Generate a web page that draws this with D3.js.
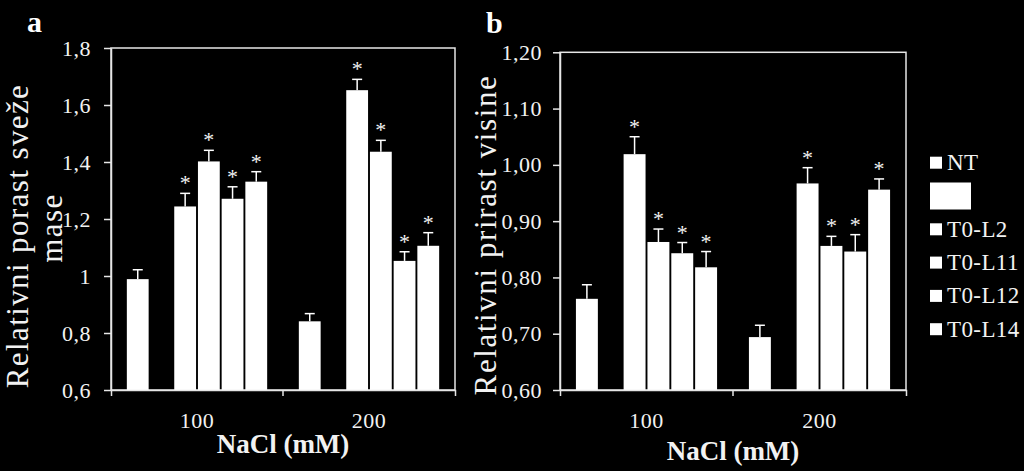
<!DOCTYPE html>
<html><head><meta charset="utf-8">
<script src="https://cdn.jsdelivr.net/npm/d3@7"></script>
<style>
body{margin:0;background:#000;}
svg{display:block;}
text{font-family:"Liberation Serif","Times New Roman",serif;}
</style>
</head><body>
<svg id="c" width="1024" height="471"></svg>
<script>
// ---- data ----
const groups = ["100", "200"];
const series = ["NT", " ", "T0-L2", "T0-L11", "T0-L12", "T0-L14"];

// panel a: relative fresh mass growth (per series, values for 100 and 200 mM)
const massNT = [0.989, 0.841],   massNTErr = [0.033, 0.027];
const massL2 = [1.244, 1.652],   massL2Err = [0.046, 0.038];
const massL11 = [1.402, 1.436],  massL11Err = [0.039, 0.040];
const massL12 = [1.271, 1.053],  massL12Err = [0.042, 0.032];
const massL14 = [1.331, 1.106],  massL14Err = [0.035, 0.046];

// panel b: relative height growth
const heightNT = [0.762, 0.694],  heightNTErr = [0.025, 0.021];
const heightL2 = [1.019, 0.967],  heightL2Err = [0.031, 0.028];
const heightL11 = [0.863, 0.856], heightL11Err = [0.023, 0.017];
const heightL12 = [0.843, 0.846], heightL12Err = [0.019, 0.030];
const heightL14 = [0.818, 0.956], heightL14Err = [0.028, 0.019];

// significance marker (*) per series
const significant = [false, false, true, true, true, true];

const massTicks = [0.6, 0.8, 1.0, 1.2, 1.4, 1.6, 1.8];
const massTickLabels = ["0,6", "0,8", "1", "1,2", "1,4", "1,6", "1,8"];
const heightTicks = [0.6, 0.7, 0.8, 0.9, 1.0, 1.1, 1.2];
const heightTickLabels = ["0,60", "0,70", "0,80", "0,90", "1,00", "1,10", "1,20"];

const massSeries = [
  {vals: massNT, errs: massNTErr}, null,
  {vals: massL2, errs: massL2Err}, {vals: massL11, errs: massL11Err},
  {vals: massL12, errs: massL12Err}, {vals: massL14, errs: massL14Err}
];
const heightSeries = [
  {vals: heightNT, errs: heightNTErr}, null,
  {vals: heightL2, errs: heightL2Err}, {vals: heightL11, errs: heightL11Err},
  {vals: heightL12, errs: heightL12Err}, {vals: heightL14, errs: heightL14Err}
];

const svg = d3.select("#c");
const LINE = "#e6e6e6";
const TXT = "#f2f2f2";

function panel(opts) {
  const {left, right, top, bottom, domain, ticks, tickLabels, data, tickPad} = opts;
  const g = svg.append("g");
  const x = d3.scaleBand().domain(groups).range([left, right]).padding(0);
  const xi = d3.scaleBand().domain(d3.range(series.length))
      .range([0, x.bandwidth()]).paddingInner(0.08).paddingOuter(0.668);
  const y = d3.scaleLinear().domain(domain).range([bottom, top]);

  // frame
  g.append("rect").attr("x", left).attr("y", top)
    .attr("width", right - left).attr("height", bottom - top)
    .attr("fill", "none").attr("stroke", LINE).attr("stroke-width", 1.5);

  // bars, error bars, asterisks
  data.forEach((s, si) => {
    if (!s) return;
    groups.forEach((grp, gi) => {
      const v = s.vals[gi], e = s.errs[gi];
      const bx = x(grp) + xi(si), bw = xi.bandwidth(), cx = bx + bw / 2;
      g.append("rect").attr("x", bx).attr("y", y(v))
        .attr("width", bw).attr("height", y(domain[0]) - y(v)).attr("fill", "#fff");
      g.append("line").attr("x1", cx).attr("x2", cx).attr("y1", y(v)).attr("y2", y(v + e))
        .attr("stroke", "#fff").attr("stroke-width", 1.5);
      g.append("line").attr("x1", cx - 5).attr("x2", cx + 5).attr("y1", y(v + e)).attr("y2", y(v + e))
        .attr("stroke", "#fff").attr("stroke-width", 1.5);
      if (significant[si]) {
        g.append("text").attr("x", cx).attr("y", y(v + e) - 3)
          .attr("text-anchor", "middle").attr("font-size", 22).attr("fill", TXT).text("*");
      }
    });
  });

  // y axis
  const ya = g.append("g").attr("transform", `translate(${left},0)`)
    .call(d3.axisLeft(y).tickValues(ticks).tickFormat((d, i) => tickLabels[i])
      .tickSizeInner(7).tickSizeOuter(0).tickPadding(tickPad));
  ya.selectAll("path,line").attr("stroke", LINE).attr("stroke-width", 1.5);
  ya.selectAll("text").attr("font-size", 22).attr("fill", TXT).attr("letter-spacing", 0.5)
    .style("font-family", '"Liberation Serif","Times New Roman",serif');

  // x axis
  const xa = g.append("g").attr("transform", `translate(0,${bottom})`)
    .call(d3.axisBottom(x).tickSizeInner(0).tickSizeOuter(6).tickPadding(22));
  xa.selectAll("path,line").attr("stroke", LINE).attr("stroke-width", 1.5);
  xa.selectAll("text").attr("font-size", 22).attr("fill", TXT).attr("letter-spacing", 0.5)
    .style("font-family", '"Liberation Serif","Times New Roman",serif');
  xa.append("line").attr("x1", x(groups[1])).attr("x2", x(groups[1]))
    .attr("y1", 0).attr("y2", 6).attr("stroke", LINE).attr("stroke-width", 1.5);
  return {x, y};
}

panel({left: 111, right: 455, top: 48, bottom: 390, domain: [0.6, 1.8],
  ticks: massTicks, tickLabels: massTickLabels, data: massSeries, tickPad: 13});
panel({left: 560, right: 906, top: 52.3, bottom: 390, domain: [0.6, 1.2],
  ticks: heightTicks, tickLabels: heightTickLabels, data: heightSeries, tickPad: 11});

// titles
svg.append("text").attr("transform", "translate(28,236) rotate(-90)")
  .attr("text-anchor", "middle").attr("font-size", 31).attr("letter-spacing", 1.4)
  .attr("fill", TXT).text("Relativni porast sveže");
svg.append("text").attr("transform", "translate(62,228) rotate(-90)")
  .attr("text-anchor", "middle").attr("font-size", 31).attr("letter-spacing", 1.4)
  .attr("fill", TXT).text("mase");
svg.append("text").attr("transform", "translate(496,235) rotate(-90)")
  .attr("text-anchor", "middle").attr("font-size", 31).attr("letter-spacing", 1.6)
  .attr("fill", TXT).text("Relativni prirast visine");

svg.append("text").attr("x", 283).attr("y", 453).attr("text-anchor", "middle")
  .attr("font-size", 27).attr("font-weight", "bold").attr("fill", TXT).text("NaCl (mM)");
svg.append("text").attr("x", 733).attr("y", 460).attr("text-anchor", "middle")
  .attr("font-size", 27).attr("font-weight", "bold").attr("fill", TXT).text("NaCl (mM)");

svg.append("text").attr("x", 27).attr("y", 32).attr("font-size", 30)
  .attr("font-weight", "bold").attr("fill", "#fff").text("a");
svg.append("text").attr("x", 486).attr("y", 33).attr("font-size", 30)
  .attr("font-weight", "bold").attr("fill", "#fff").text("b");

// legend
const lg = svg.append("g");
series.forEach((name, i) => {
  const cy = 162.7 + i * 33.3;
  if (name.trim() === "") {
    lg.append("rect").attr("x", 930).attr("y", cy - 13.5).attr("width", 41).attr("height", 27).attr("fill", "#fff");
  } else {
    lg.append("rect").attr("x", 930).attr("y", cy - 6).attr("width", 12).attr("height", 12).attr("fill", "#fff");
    lg.append("text").attr("x", 947).attr("y", cy + 7.5).attr("font-size", 23).attr("letter-spacing", 0.4)
      .attr("fill", TXT).text(name);
  }
});
</script>
</body></html>
